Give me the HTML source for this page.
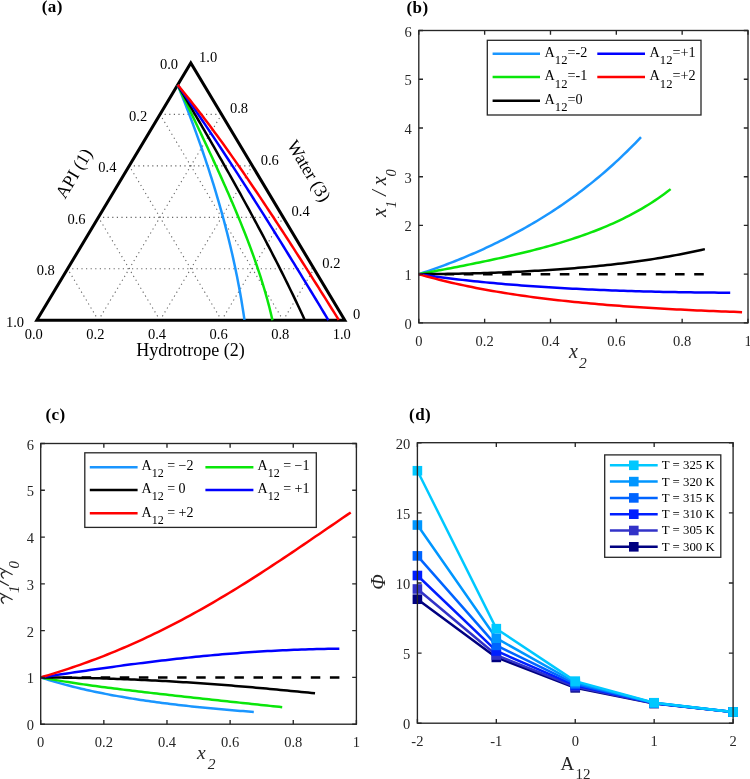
<!DOCTYPE html>
<html><head><meta charset="utf-8"><style>
html,body{margin:0;padding:0;background:#fff;width:750px;height:779px;overflow:hidden;}
svg{display:block;will-change:transform;}
</style></head><body>
<svg width="750" height="779" viewBox="0 0 750 779">
<rect width="750" height="779" fill="#fff"/>
<line x1="160.00" y1="114.38" x2="221.60" y2="114.38" stroke="#666" stroke-width="1.1" stroke-dasharray="1.2 3.4"/>
<line x1="98.40" y1="320.30" x2="67.60" y2="268.82" stroke="#666" stroke-width="1.1" stroke-dasharray="1.2 3.4"/>
<line x1="98.40" y1="320.30" x2="221.60" y2="114.38" stroke="#666" stroke-width="1.1" stroke-dasharray="1.2 3.4"/>
<line x1="129.20" y1="165.86" x2="252.40" y2="165.86" stroke="#666" stroke-width="1.1" stroke-dasharray="1.2 3.4"/>
<line x1="160.00" y1="320.30" x2="98.40" y2="217.34" stroke="#666" stroke-width="1.1" stroke-dasharray="1.2 3.4"/>
<line x1="160.00" y1="320.30" x2="252.40" y2="165.86" stroke="#666" stroke-width="1.1" stroke-dasharray="1.2 3.4"/>
<line x1="98.40" y1="217.34" x2="283.20" y2="217.34" stroke="#666" stroke-width="1.1" stroke-dasharray="1.2 3.4"/>
<line x1="221.60" y1="320.30" x2="129.20" y2="165.86" stroke="#666" stroke-width="1.1" stroke-dasharray="1.2 3.4"/>
<line x1="221.60" y1="320.30" x2="283.20" y2="217.34" stroke="#666" stroke-width="1.1" stroke-dasharray="1.2 3.4"/>
<line x1="67.60" y1="268.82" x2="314.00" y2="268.82" stroke="#666" stroke-width="1.1" stroke-dasharray="1.2 3.4"/>
<line x1="283.20" y1="320.30" x2="160.00" y2="114.38" stroke="#666" stroke-width="1.1" stroke-dasharray="1.2 3.4"/>
<line x1="283.20" y1="320.30" x2="314.00" y2="268.82" stroke="#666" stroke-width="1.1" stroke-dasharray="1.2 3.4"/>
<path d="M36.80,320.30 L344.80,320.30 L190.80,62.90 Z" fill="none" stroke="#000" stroke-width="3" stroke-linejoin="miter"/>
<path d="M177.63,84.91 L178.69,87.5 L179.95,90.62 L181.2,93.75 L182.45,96.88 L183.49,99.5 L184.73,102.65 L185.96,105.82 L187.19,108.99 L188.21,111.64 L189.43,114.83 L190.64,118.03 L191.85,121.24 L192.85,123.92 L194.04,127.15 L195.23,130.39 L196.41,133.64 L197.59,136.91 L198.56,139.63 L199.72,142.91 L200.88,146.21 L202.03,149.51 L202.98,152.28 L204.11,155.6 L205.24,158.94 L206.36,162.3 L207.29,165.1 L208.4,168.48 L209.5,171.86 L210.59,175.27 L211.67,178.68 L212.57,181.54 L213.63,184.98 L214.69,188.44 L215.74,191.91 L216.61,194.81 L217.64,198.31 L218.67,201.82 L219.68,205.35 L220.52,208.31 L221.52,211.87 L222.5,215.44 L223.48,219.04 L224.45,222.65 L225.24,225.67 L226.19,229.31 L227.13,232.97 L228.05,236.65 L228.81,239.74 L229.71,243.45 L230.61,247.19 L231.48,250.94 L232.21,254.09 L233.06,257.89 L233.91,261.7 L234.73,265.54 L235.55,269.4 L236.22,272.64 L237.01,276.55 L237.78,280.48 L238.54,284.43 L239.17,287.75 L239.9,291.75 L240.62,295.78 L241.32,299.83 L241.89,303.23 L242.55,307.34 L243.21,311.48 L243.84,315.64 L244.45,319.84" fill="none" stroke="#1a96ff" stroke-width="2.5" stroke-linejoin="round" />
<path d="M177.63,84.91 L178.95,87.64 L180.53,90.92 L182.11,94.2 L183.69,97.48 L185.01,100.22 L186.58,103.51 L188.16,106.79 L189.74,110.08 L191.31,113.37 L192.62,116.12 L194.19,119.41 L195.76,122.71 L197.33,126.01 L198.64,128.76 L200.2,132.07 L201.77,135.37 L203.33,138.69 L204.89,142 L206.19,144.77 L207.74,148.09 L209.29,151.42 L210.84,154.76 L212.39,158.09 L213.67,160.88 L215.21,164.23 L216.75,167.59 L218.28,170.95 L219.55,173.75 L221.08,177.13 L222.59,180.51 L224.11,183.9 L225.62,187.3 L226.87,190.14 L228.37,193.56 L229.86,196.99 L231.35,200.42 L232.58,203.3 L234.06,206.75 L235.53,210.22 L236.98,213.71 L238.44,217.2 L239.64,220.13 L241.07,223.65 L242.5,227.19 L243.92,230.75 L245.32,234.32 L246.49,237.31 L247.87,240.91 L249.25,244.54 L250.61,248.18 L251.73,251.24 L253.07,254.92 L254.4,258.63 L255.7,262.37 L257,266.13 L258.06,269.28 L259.33,273.1 L260.57,276.94 L261.8,280.81 L262.8,284.06 L263.99,288 L265.16,291.97 L266.3,295.98 L267.43,300.02 L268.34,303.43 L269.42,307.55 L270.46,311.73 L271.48,315.95 L272.47,320.22" fill="none" stroke="#0ae60a" stroke-width="2.5" stroke-linejoin="round" />
<path d="M177.63,84.91 L179.3,87.72 L181.31,91.1 L183.31,94.48 L185.31,97.86 L186.98,100.68 L188.97,104.07 L190.97,107.46 L192.96,110.86 L194.96,114.26 L196.61,117.09 L198.6,120.5 L200.59,123.9 L202.57,127.32 L204.22,130.16 L206.2,133.58 L208.18,137 L210.16,140.43 L212.13,143.86 L213.77,146.72 L215.74,150.15 L217.71,153.59 L219.67,157.04 L221.63,160.49 L223.26,163.36 L225.22,166.82 L227.18,170.28 L229.13,173.75 L230.75,176.64 L232.7,180.12 L234.64,183.6 L236.58,187.08 L238.52,190.57 L240.13,193.48 L242.06,196.98 L243.99,200.49 L245.91,204 L247.51,206.93 L249.43,210.45 L251.34,213.98 L253.25,217.51 L255.16,221.05 L256.74,224.01 L258.64,227.56 L260.54,231.12 L262.43,234.69 L264.32,238.26 L265.88,241.25 L267.76,244.84 L269.64,248.43 L271.5,252.04 L273.06,255.05 L274.92,258.67 L276.77,262.3 L278.62,265.93 L280.46,269.58 L281.99,272.63 L283.82,276.29 L285.65,279.97 L287.47,283.65 L288.98,286.73 L290.79,290.44 L292.59,294.16 L294.38,297.89 L296.17,301.63 L297.65,304.76 L299.42,308.52 L301.19,312.3 L302.94,316.1 L304.69,319.9" fill="none" stroke="#000000" stroke-width="2.5" stroke-linejoin="round" />
<path d="M177.63,84.91 L179.62,87.69 L181.99,91.05 L184.36,94.41 L186.73,97.78 L188.69,100.6 L191.04,103.99 L193.39,107.39 L195.74,110.79 L198.08,114.2 L200.02,117.05 L202.36,120.48 L204.68,123.92 L207,127.36 L208.94,130.23 L211.25,133.68 L213.56,137.14 L215.87,140.61 L218.17,144.08 L220.09,146.98 L222.39,150.47 L224.68,153.96 L226.97,157.45 L229.26,160.95 L231.16,163.87 L233.45,167.38 L235.72,170.9 L238,174.42 L239.89,177.35 L242.16,180.88 L244.43,184.41 L246.7,187.95 L248.96,191.49 L250.84,194.45 L253.1,198 L255.36,201.55 L257.61,205.11 L259.49,208.07 L261.74,211.64 L263.98,215.21 L266.23,218.78 L268.47,222.35 L270.34,225.34 L272.57,228.92 L274.81,232.5 L277.05,236.09 L279.28,239.68 L281.14,242.68 L283.37,246.27 L285.59,249.88 L287.82,253.48 L289.67,256.48 L291.89,260.09 L294.12,263.71 L296.33,267.32 L298.55,270.94 L300.4,273.95 L302.61,277.58 L304.82,281.2 L307.03,284.83 L308.88,287.86 L311.08,291.49 L313.29,295.12 L315.5,298.76 L317.7,302.4 L319.53,305.44 L321.73,309.08 L323.93,312.73 L326.13,316.38 L328.33,320.03" fill="none" stroke="#0000ff" stroke-width="2.5" stroke-linejoin="round" />
<path d="M177.63,84.91 L179.84,87.55 L182.48,90.74 L185.11,93.95 L187.72,97.19 L189.89,99.89 L192.49,103.16 L195.07,106.44 L197.64,109.74 L199.78,112.51 L202.34,115.84 L204.88,119.18 L207.42,122.54 L209.53,125.35 L212.05,128.74 L214.57,132.14 L217.07,135.55 L219.57,138.98 L221.65,141.84 L224.13,145.29 L226.61,148.75 L229.08,152.22 L231.14,155.12 L233.6,158.61 L236.05,162.11 L238.5,165.62 L240.54,168.55 L242.97,172.08 L245.41,175.61 L247.84,179.16 L250.26,182.71 L252.27,185.68 L254.69,189.24 L257.1,192.82 L259.51,196.4 L261.51,199.39 L263.9,202.98 L266.3,206.58 L268.69,210.19 L270.68,213.2 L273.06,216.81 L275.44,220.44 L277.82,224.07 L280.19,227.7 L282.17,230.73 L284.54,234.38 L286.9,238.03 L289.27,241.68 L291.23,244.73 L293.59,248.39 L295.94,252.06 L298.3,255.73 L300.25,258.79 L302.6,262.47 L304.95,266.15 L307.29,269.84 L309.63,273.52 L311.58,276.6 L313.92,280.3 L316.25,284 L318.59,287.7 L320.53,290.79 L322.86,294.49 L325.19,298.21 L327.51,301.92 L329.45,305.02 L331.77,308.74 L334.09,312.46 L336.41,316.18 L338.73,319.91" fill="none" stroke="#ff0000" stroke-width="2.5" stroke-linejoin="round" />
<text x="178.00" y="69.30" text-anchor="end" font-family="Liberation Serif" font-size="14.5" fill="#000" >0.0</text>
<text x="199.10" y="61.90" font-family="Liberation Serif" font-size="14.5" fill="#000" >1.0</text>
<text x="33.80" y="338.60" text-anchor="middle" font-family="Liberation Serif" font-size="14.5" fill="#000" >0.0</text>
<text x="147.20" y="120.78" text-anchor="end" font-family="Liberation Serif" font-size="14.5" fill="#000" >0.2</text>
<text x="229.90" y="113.38" font-family="Liberation Serif" font-size="14.5" fill="#000" >0.8</text>
<text x="95.40" y="338.60" text-anchor="middle" font-family="Liberation Serif" font-size="14.5" fill="#000" >0.2</text>
<text x="116.40" y="172.26" text-anchor="end" font-family="Liberation Serif" font-size="14.5" fill="#000" >0.4</text>
<text x="260.70" y="164.86" font-family="Liberation Serif" font-size="14.5" fill="#000" >0.6</text>
<text x="157.00" y="338.60" text-anchor="middle" font-family="Liberation Serif" font-size="14.5" fill="#000" >0.4</text>
<text x="85.60" y="223.74" text-anchor="end" font-family="Liberation Serif" font-size="14.5" fill="#000" >0.6</text>
<text x="291.50" y="216.34" font-family="Liberation Serif" font-size="14.5" fill="#000" >0.4</text>
<text x="218.60" y="338.60" text-anchor="middle" font-family="Liberation Serif" font-size="14.5" fill="#000" >0.6</text>
<text x="54.80" y="275.22" text-anchor="end" font-family="Liberation Serif" font-size="14.5" fill="#000" >0.8</text>
<text x="322.30" y="267.82" font-family="Liberation Serif" font-size="14.5" fill="#000" >0.2</text>
<text x="280.20" y="338.60" text-anchor="middle" font-family="Liberation Serif" font-size="14.5" fill="#000" >0.8</text>
<text x="24.00" y="326.70" text-anchor="end" font-family="Liberation Serif" font-size="14.5" fill="#000" >1.0</text>
<text x="353.10" y="319.30" font-family="Liberation Serif" font-size="14.5" fill="#000" >0</text>
<text x="341.80" y="338.60" text-anchor="middle" font-family="Liberation Serif" font-size="14.5" fill="#000" >1.0</text>
<text x="190.50" y="356.00" text-anchor="middle" font-family="Liberation Serif" font-size="18" fill="#000" >Hydrotrope (2)</text>
<text transform="translate(73.8,173.4) rotate(-59.1)" text-anchor="middle" dominant-baseline="central" font-family="Liberation Serif" font-size="18">API (1)</text>
<text transform="translate(309,170.8) rotate(59.1)" text-anchor="middle" dominant-baseline="central" font-family="Liberation Serif" font-size="18">Water (3)</text>
<text x="41.70" y="12.10" font-family="Liberation Serif" font-size="17" fill="#000" font-weight="bold" letter-spacing="0.4">(a)</text>
<line x1="418.80" y1="274.17" x2="705.00" y2="274.17" stroke="#000" stroke-width="2.5" stroke-dasharray="9.6 9.6" stroke-dashoffset="12.6"/>
<path d="M418.8,274.17 L421.61,273.24 L424.43,272.3 L427.24,271.34 L430.05,270.37 L432.86,269.39 L435.68,268.39 L438.49,267.38 L441.3,266.35 L444.12,265.31 L446.93,264.25 L449.74,263.18 L452.55,262.09 L455.37,260.98 L458.18,259.86 L460.99,258.73 L463.8,257.57 L466.62,256.4 L469.43,255.22 L472.24,254.01 L475.06,252.79 L477.87,251.55 L480.68,250.29 L483.49,249.02 L486.31,247.72 L489.12,246.41 L491.93,245.08 L494.75,243.73 L497.56,242.36 L500.37,240.97 L503.18,239.56 L506,238.13 L508.81,236.68 L511.62,235.2 L514.43,233.71 L517.25,232.19 L520.06,230.66 L522.87,229.1 L525.69,227.51 L528.5,225.91 L531.31,224.28 L534.12,222.63 L536.94,220.95 L539.75,219.25 L542.56,217.52 L545.38,215.77 L548.19,213.99 L551,212.18 L553.81,210.35 L556.63,208.49 L559.44,206.6 L562.25,204.69 L565.06,202.74 L567.88,200.77 L570.69,198.77 L573.5,196.73 L576.32,194.67 L579.13,192.57 L581.94,190.44 L584.75,188.28 L587.57,186.09 L590.38,183.86 L593.19,181.6 L596.01,179.3 L598.82,176.96 L601.63,174.59 L604.44,172.18 L607.26,169.74 L610.07,167.25 L612.88,164.73 L615.69,162.16 L618.51,159.56 L621.32,156.91 L624.13,154.22 L626.95,151.48 L629.76,148.7 L632.57,145.88 L635.38,143.01 L638.2,140.09 L641.01,137.12" fill="none" stroke="#1a96ff" stroke-width="2.5" stroke-linejoin="round" />
<path d="M418.8,274.17 L421.99,273.57 L425.18,272.98 L428.36,272.38 L431.55,271.79 L434.74,271.19 L437.93,270.58 L441.11,269.98 L444.3,269.37 L447.49,268.76 L450.68,268.15 L453.87,267.53 L457.05,266.91 L460.24,266.28 L463.43,265.66 L466.62,265.02 L469.81,264.39 L472.99,263.74 L476.18,263.1 L479.37,262.44 L482.56,261.78 L485.74,261.12 L488.93,260.45 L492.12,259.77 L495.31,259.08 L498.5,258.39 L501.68,257.69 L504.87,256.97 L508.06,256.26 L511.25,255.53 L514.43,254.79 L517.62,254.04 L520.81,253.28 L524,252.5 L527.19,251.72 L530.37,250.92 L533.56,250.11 L536.75,249.29 L539.94,248.45 L543.13,247.6 L546.31,246.73 L549.5,245.84 L552.69,244.94 L555.88,244.02 L559.06,243.08 L562.25,242.12 L565.44,241.14 L568.63,240.13 L571.82,239.11 L575,238.06 L578.19,236.99 L581.38,235.9 L584.57,234.77 L587.75,233.62 L590.94,232.44 L594.13,231.23 L597.32,229.99 L600.51,228.72 L603.69,227.42 L606.88,226.08 L610.07,224.7 L613.26,223.28 L616.45,221.83 L619.63,220.33 L622.82,218.8 L626.01,217.21 L629.2,215.58 L632.38,213.9 L635.57,212.18 L638.76,210.39 L641.95,208.56 L645.14,206.66 L648.32,204.71 L651.51,202.69 L654.7,200.61 L657.89,198.47 L661.07,196.25 L664.26,193.95 L667.45,191.58 L670.64,189.13" fill="none" stroke="#0ae60a" stroke-width="2.5" stroke-linejoin="round" />
<path d="M418.8,274.17 L422.42,274.15 L426.04,274.12 L429.66,274.09 L433.28,274.06 L436.91,274.02 L440.53,273.97 L444.15,273.92 L447.77,273.87 L451.39,273.81 L455.01,273.75 L458.63,273.68 L462.25,273.61 L465.88,273.53 L469.5,273.44 L473.12,273.35 L476.74,273.25 L480.36,273.15 L483.98,273.05 L487.6,272.93 L491.22,272.81 L494.85,272.69 L498.47,272.56 L502.09,272.42 L505.71,272.27 L509.33,272.12 L512.95,271.96 L516.57,271.8 L520.19,271.63 L523.81,271.45 L527.44,271.27 L531.06,271.07 L534.68,270.87 L538.3,270.67 L541.92,270.45 L545.54,270.23 L549.16,270 L552.78,269.76 L556.41,269.51 L560.03,269.25 L563.65,268.99 L567.27,268.71 L570.89,268.43 L574.51,268.14 L578.13,267.83 L581.75,267.52 L585.38,267.2 L589,266.87 L592.62,266.53 L596.24,266.17 L599.86,265.81 L603.48,265.44 L607.1,265.05 L610.72,264.65 L614.34,264.24 L617.97,263.82 L621.59,263.39 L625.21,262.94 L628.83,262.48 L632.45,262.01 L636.07,261.52 L639.69,261.02 L643.31,260.5 L646.94,259.97 L650.56,259.43 L654.18,258.86 L657.8,258.29 L661.42,257.69 L665.04,257.08 L668.66,256.45 L672.28,255.81 L675.91,255.14 L679.53,254.46 L683.15,253.76 L686.77,253.04 L690.39,252.29 L694.01,251.53 L697.63,250.75 L701.25,249.94 L704.87,249.11" fill="none" stroke="#000000" stroke-width="2.5" stroke-linejoin="round" />
<path d="M418.8,274.17 L422.74,274.76 L426.68,275.33 L430.63,275.89 L434.57,276.44 L438.51,276.97 L442.45,277.49 L446.39,277.99 L450.34,278.48 L454.28,278.96 L458.22,279.43 L462.16,279.88 L466.1,280.32 L470.05,280.76 L473.99,281.17 L477.93,281.58 L481.87,281.98 L485.82,282.37 L489.76,282.74 L493.7,283.11 L497.64,283.47 L501.58,283.81 L505.53,284.15 L509.47,284.48 L513.41,284.8 L517.35,285.11 L521.29,285.41 L525.24,285.71 L529.18,286 L533.12,286.27 L537.06,286.54 L541,286.81 L544.95,287.06 L548.89,287.31 L552.83,287.55 L556.77,287.79 L560.71,288.02 L564.66,288.24 L568.6,288.45 L572.54,288.66 L576.48,288.86 L580.42,289.05 L584.37,289.24 L588.31,289.43 L592.25,289.6 L596.19,289.77 L600.14,289.94 L604.08,290.1 L608.02,290.25 L611.96,290.4 L615.9,290.55 L619.85,290.69 L623.79,290.82 L627.73,290.95 L631.67,291.07 L635.61,291.19 L639.56,291.3 L643.5,291.41 L647.44,291.52 L651.38,291.62 L655.32,291.71 L659.27,291.8 L663.21,291.89 L667.15,291.97 L671.09,292.05 L675.03,292.12 L678.98,292.19 L682.92,292.25 L686.86,292.31 L690.8,292.37 L694.74,292.42 L698.69,292.47 L702.63,292.51 L706.57,292.55 L710.51,292.59 L714.45,292.62 L718.4,292.65 L722.34,292.67 L726.28,292.7 L730.22,292.71" fill="none" stroke="#0000ff" stroke-width="2.5" stroke-linejoin="round" />
<path d="M418.8,274.17 L422.89,275.34 L426.98,276.48 L431.08,277.58 L435.17,278.66 L439.26,279.7 L443.35,280.72 L447.44,281.71 L451.54,282.67 L455.63,283.6 L459.72,284.51 L463.81,285.39 L467.9,286.25 L472,287.08 L476.09,287.9 L480.18,288.68 L484.27,289.45 L488.37,290.2 L492.46,290.92 L496.55,291.63 L500.64,292.31 L504.73,292.98 L508.83,293.63 L512.92,294.26 L517.01,294.87 L521.1,295.47 L525.19,296.05 L529.29,296.62 L533.38,297.17 L537.47,297.7 L541.56,298.22 L545.65,298.73 L549.75,299.22 L553.84,299.7 L557.93,300.17 L562.02,300.62 L566.11,301.06 L570.21,301.49 L574.3,301.91 L578.39,302.32 L582.48,302.71 L586.58,303.1 L590.67,303.47 L594.76,303.84 L598.85,304.19 L602.94,304.54 L607.04,304.88 L611.13,305.2 L615.22,305.52 L619.31,305.83 L623.4,306.14 L627.5,306.43 L631.59,306.72 L635.68,307 L639.77,307.27 L643.86,307.53 L647.96,307.79 L652.05,308.04 L656.14,308.28 L660.23,308.52 L664.32,308.75 L668.42,308.98 L672.51,309.19 L676.6,309.41 L680.69,309.61 L684.79,309.82 L688.88,310.01 L692.97,310.2 L697.06,310.39 L701.15,310.57 L705.25,310.75 L709.34,310.92 L713.43,311.09 L717.52,311.25 L721.61,311.41 L725.71,311.56 L729.8,311.71 L733.89,311.85 L737.98,311.99 L742.07,312.13" fill="none" stroke="#ff0000" stroke-width="2.5" stroke-linejoin="round" />
<rect x="418.80" y="30.50" width="329.20" height="292.40" fill="none" stroke="#262626" stroke-width="1.35"/>
<path d="M418.80,322.90 V318.70 M418.80,30.50 V34.70" stroke="#262626" stroke-width="1.35"/>
<text x="418.80" y="345.80" text-anchor="middle" font-family="Liberation Serif" font-size="14.5" fill="#262626" >0</text>
<path d="M484.64,322.90 V318.70 M484.64,30.50 V34.70" stroke="#262626" stroke-width="1.35"/>
<text x="484.64" y="345.80" text-anchor="middle" font-family="Liberation Serif" font-size="14.5" fill="#262626" >0.2</text>
<path d="M550.48,322.90 V318.70 M550.48,30.50 V34.70" stroke="#262626" stroke-width="1.35"/>
<text x="550.48" y="345.80" text-anchor="middle" font-family="Liberation Serif" font-size="14.5" fill="#262626" >0.4</text>
<path d="M616.32,322.90 V318.70 M616.32,30.50 V34.70" stroke="#262626" stroke-width="1.35"/>
<text x="616.32" y="345.80" text-anchor="middle" font-family="Liberation Serif" font-size="14.5" fill="#262626" >0.6</text>
<path d="M682.16,322.90 V318.70 M682.16,30.50 V34.70" stroke="#262626" stroke-width="1.35"/>
<text x="682.16" y="345.80" text-anchor="middle" font-family="Liberation Serif" font-size="14.5" fill="#262626" >0.8</text>
<path d="M748.00,322.90 V318.70 M748.00,30.50 V34.70" stroke="#262626" stroke-width="1.35"/>
<text x="748.00" y="345.80" text-anchor="middle" font-family="Liberation Serif" font-size="14.5" fill="#262626" >1</text>
<path d="M418.80,322.90 H423.00 M748.00,322.90 H743.80" stroke="#262626" stroke-width="1.35"/>
<text x="411.80" y="328.90" text-anchor="end" font-family="Liberation Serif" font-size="14.5" fill="#262626" >0</text>
<path d="M418.80,274.17 H423.00 M748.00,274.17 H743.80" stroke="#262626" stroke-width="1.35"/>
<text x="411.80" y="280.17" text-anchor="end" font-family="Liberation Serif" font-size="14.5" fill="#262626" >1</text>
<path d="M418.80,225.43 H423.00 M748.00,225.43 H743.80" stroke="#262626" stroke-width="1.35"/>
<text x="411.80" y="231.43" text-anchor="end" font-family="Liberation Serif" font-size="14.5" fill="#262626" >2</text>
<path d="M418.80,176.70 H423.00 M748.00,176.70 H743.80" stroke="#262626" stroke-width="1.35"/>
<text x="411.80" y="182.70" text-anchor="end" font-family="Liberation Serif" font-size="14.5" fill="#262626" >3</text>
<path d="M418.80,127.97 H423.00 M748.00,127.97 H743.80" stroke="#262626" stroke-width="1.35"/>
<text x="411.80" y="133.97" text-anchor="end" font-family="Liberation Serif" font-size="14.5" fill="#262626" >4</text>
<path d="M418.80,79.23 H423.00 M748.00,79.23 H743.80" stroke="#262626" stroke-width="1.35"/>
<text x="411.80" y="85.23" text-anchor="end" font-family="Liberation Serif" font-size="14.5" fill="#262626" >5</text>
<path d="M418.80,30.50 H423.00 M748.00,30.50 H743.80" stroke="#262626" stroke-width="1.35"/>
<text x="411.80" y="36.50" text-anchor="end" font-family="Liberation Serif" font-size="14.5" fill="#262626" >6</text>
<rect x="487.3" y="40.3" width="213.7" height="74.7" fill="#fff" stroke="#262626" stroke-width="1.3"/>
<line x1="492.6" y1="53.7" x2="540.0" y2="53.7" stroke="#1a96ff" stroke-width="2.5"/>
<text x="544.6" y="57.0" font-family="Liberation Serif" font-size="14.2" fill="#000">A<tspan font-size="12.6" dy="7.3">12</tspan><tspan dy="-7.3">=-2</tspan></text>
<line x1="597.3" y1="53.7" x2="645.0" y2="53.7" stroke="#0000ff" stroke-width="2.5"/>
<text x="649.6" y="57.0" font-family="Liberation Serif" font-size="14.2" fill="#000">A<tspan font-size="12.6" dy="7.3">12</tspan><tspan dy="-7.3">=+1</tspan></text>
<line x1="492.6" y1="77.1" x2="540.0" y2="77.1" stroke="#0ae60a" stroke-width="2.5"/>
<text x="544.6" y="80.4" font-family="Liberation Serif" font-size="14.2" fill="#000">A<tspan font-size="12.6" dy="7.3">12</tspan><tspan dy="-7.3">=-1</tspan></text>
<line x1="597.3" y1="77.1" x2="645.0" y2="77.1" stroke="#ff0000" stroke-width="2.5"/>
<text x="649.6" y="80.4" font-family="Liberation Serif" font-size="14.2" fill="#000">A<tspan font-size="12.6" dy="7.3">12</tspan><tspan dy="-7.3">=+2</tspan></text>
<line x1="492.6" y1="100.7" x2="540.0" y2="100.7" stroke="#000000" stroke-width="2.5"/>
<text x="544.6" y="104.0" font-family="Liberation Serif" font-size="14.2" fill="#000">A<tspan font-size="12.6" dy="7.3">12</tspan><tspan dy="-7.3">=0</tspan></text>
<text x="406.50" y="12.80" font-family="Liberation Serif" font-size="17" fill="#000" font-weight="bold" letter-spacing="0.4">(b)</text>
<text x="569" y="358" font-family="Liberation Serif" font-style="italic" font-size="20" fill="#262626">x<tspan font-size="15.5" dx="1.2" dy="9.8">2</tspan></text>
<text transform="translate(386.2,217) rotate(-90)" font-family="Liberation Serif" font-style="italic" font-size="20" fill="#262626">x<tspan font-size="14.5" dy="10">1</tspan><tspan dy="-10"> / x</tspan><tspan font-size="14.5" dy="10">0</tspan></text>
<line x1="40.70" y1="677.42" x2="340.40" y2="677.42" stroke="#000" stroke-width="2.5" stroke-dasharray="9.5 9.6" stroke-dashoffset="16.4"/>
<path d="M40.7,677.42 L43.4,678.29 L46.09,679.14 L48.79,679.98 L51.49,680.8 L54.19,681.59 L56.88,682.37 L59.58,683.14 L62.28,683.88 L64.98,684.61 L67.67,685.33 L70.37,686.02 L73.07,686.71 L75.77,687.38 L78.46,688.03 L81.16,688.67 L83.86,689.3 L86.56,689.91 L89.25,690.52 L91.95,691.1 L94.65,691.68 L97.35,692.25 L100.04,692.8 L102.74,693.34 L105.44,693.87 L108.14,694.39 L110.83,694.9 L113.53,695.4 L116.23,695.89 L118.93,696.37 L121.62,696.84 L124.32,697.31 L127.02,697.76 L129.72,698.2 L132.41,698.64 L135.11,699.06 L137.81,699.48 L140.51,699.89 L143.2,700.3 L145.9,700.69 L148.6,701.08 L151.29,701.46 L153.99,701.84 L156.69,702.2 L159.39,702.57 L162.08,702.92 L164.78,703.27 L167.48,703.61 L170.18,703.94 L172.87,704.27 L175.57,704.6 L178.27,704.91 L180.97,705.23 L183.66,705.53 L186.36,705.83 L189.06,706.13 L191.76,706.42 L194.45,706.71 L197.15,706.99 L199.85,707.26 L202.55,707.54 L205.24,707.8 L207.94,708.07 L210.64,708.32 L213.34,708.58 L216.03,708.83 L218.73,709.07 L221.43,709.31 L224.13,709.55 L226.82,709.79 L229.52,710.02 L232.22,710.24 L234.92,710.46 L237.61,710.68 L240.31,710.9 L243.01,711.11 L245.71,711.32 L248.4,711.53 L251.1,711.73 L253.8,711.93" fill="none" stroke="#1a96ff" stroke-width="2.5" stroke-linejoin="round" />
<path d="M40.7,677.42 L43.76,677.98 L46.81,678.53 L49.87,679.07 L52.93,679.6 L55.99,680.11 L59.04,680.62 L62.1,681.12 L65.16,681.61 L68.21,682.09 L71.27,682.56 L74.33,683.03 L77.39,683.48 L80.44,683.93 L83.5,684.37 L86.56,684.81 L89.61,685.24 L92.67,685.66 L95.73,686.08 L98.78,686.49 L101.84,686.9 L104.9,687.3 L107.96,687.69 L111.01,688.09 L114.07,688.48 L117.13,688.86 L120.18,689.24 L123.24,689.62 L126.3,689.99 L129.36,690.36 L132.41,690.73 L135.47,691.09 L138.53,691.45 L141.58,691.81 L144.64,692.17 L147.7,692.52 L150.76,692.88 L153.81,693.23 L156.87,693.58 L159.93,693.92 L162.98,694.27 L166.04,694.61 L169.1,694.96 L172.16,695.3 L175.21,695.64 L178.27,695.98 L181.33,696.32 L184.38,696.65 L187.44,696.99 L190.5,697.33 L193.55,697.66 L196.61,698 L199.67,698.33 L202.73,698.66 L205.78,699 L208.84,699.33 L211.9,699.66 L214.95,699.99 L218.01,700.32 L221.07,700.65 L224.13,700.98 L227.18,701.31 L230.24,701.64 L233.3,701.97 L236.35,702.3 L239.41,702.63 L242.47,702.96 L245.53,703.28 L248.58,703.61 L251.64,703.94 L254.7,704.26 L257.75,704.59 L260.81,704.91 L263.87,705.23 L266.93,705.56 L269.98,705.88 L273.04,706.2 L276.1,706.52 L279.15,706.84 L282.21,707.16" fill="none" stroke="#0ae60a" stroke-width="2.5" stroke-linejoin="round" />
<path d="M40.7,677.42 L44.17,677.44 L47.65,677.46 L51.12,677.49 L54.59,677.52 L58.06,677.56 L61.54,677.6 L65.01,677.65 L68.48,677.7 L71.95,677.75 L75.43,677.81 L78.9,677.88 L82.37,677.95 L85.85,678.02 L89.32,678.1 L92.79,678.19 L96.26,678.28 L99.74,678.37 L103.21,678.47 L106.68,678.57 L110.15,678.68 L113.63,678.8 L117.1,678.91 L120.57,679.04 L124.04,679.17 L127.52,679.3 L130.99,679.44 L134.46,679.58 L137.94,679.73 L141.41,679.89 L144.88,680.05 L148.35,680.21 L151.83,680.38 L155.3,680.55 L158.77,680.73 L162.24,680.92 L165.72,681.11 L169.19,681.3 L172.66,681.5 L176.14,681.7 L179.61,681.91 L183.08,682.13 L186.55,682.34 L190.03,682.57 L193.5,682.8 L196.97,683.03 L200.44,683.27 L203.92,683.51 L207.39,683.76 L210.86,684.01 L214.33,684.26 L217.81,684.52 L221.28,684.79 L224.75,685.06 L228.23,685.33 L231.7,685.61 L235.17,685.89 L238.64,686.18 L242.12,686.47 L245.59,686.76 L249.06,687.06 L252.53,687.36 L256.01,687.66 L259.48,687.97 L262.95,688.28 L266.43,688.6 L269.9,688.91 L273.37,689.24 L276.84,689.56 L280.32,689.89 L283.79,690.22 L287.26,690.55 L290.73,690.89 L294.21,691.23 L297.68,691.57 L301.15,691.91 L304.63,692.25 L308.1,692.6 L311.57,692.95 L315.04,693.3" fill="none" stroke="#000000" stroke-width="2.5" stroke-linejoin="round" />
<path d="M40.7,677.42 L44.48,676.84 L48.26,676.27 L52.04,675.7 L55.82,675.13 L59.6,674.56 L63.38,673.99 L67.16,673.43 L70.94,672.87 L74.72,672.31 L78.5,671.75 L82.28,671.2 L86.06,670.65 L89.85,670.1 L93.63,669.56 L97.41,669.02 L101.19,668.48 L104.97,667.95 L108.75,667.43 L112.53,666.9 L116.31,666.38 L120.09,665.87 L123.87,665.36 L127.65,664.86 L131.43,664.36 L135.21,663.87 L138.99,663.38 L142.77,662.9 L146.55,662.42 L150.33,661.95 L154.11,661.49 L157.89,661.03 L161.67,660.58 L165.45,660.14 L169.23,659.7 L173.01,659.27 L176.79,658.84 L180.58,658.43 L184.36,658.02 L188.14,657.62 L191.92,657.22 L195.7,656.84 L199.48,656.46 L203.26,656.09 L207.04,655.73 L210.82,655.37 L214.6,655.03 L218.38,654.69 L222.16,654.36 L225.94,654.04 L229.72,653.73 L233.5,653.43 L237.28,653.13 L241.06,652.85 L244.84,652.57 L248.62,652.3 L252.4,652.04 L256.18,651.79 L259.96,651.55 L263.74,651.32 L267.52,651.1 L271.3,650.89 L275.09,650.68 L278.87,650.49 L282.65,650.31 L286.43,650.13 L290.21,649.97 L293.99,649.81 L297.77,649.66 L301.55,649.53 L305.33,649.4 L309.11,649.28 L312.89,649.17 L316.67,649.07 L320.45,648.98 L324.23,648.9 L328.01,648.83 L331.79,648.77 L335.57,648.72 L339.35,648.68" fill="none" stroke="#0000ff" stroke-width="2.5" stroke-linejoin="round" />
<path d="M40.7,677.42 L44.62,676.26 L48.55,675.09 L52.47,673.89 L56.4,672.67 L60.32,671.42 L64.25,670.15 L68.17,668.85 L72.09,667.53 L76.02,666.18 L79.94,664.81 L83.87,663.41 L87.79,661.99 L91.72,660.54 L95.64,659.07 L99.56,657.57 L103.49,656.04 L107.41,654.48 L111.34,652.9 L115.26,651.3 L119.19,649.66 L123.11,648 L127.03,646.31 L130.96,644.59 L134.88,642.85 L138.81,641.08 L142.73,639.28 L146.66,637.46 L150.58,635.6 L154.5,633.72 L158.43,631.81 L162.35,629.88 L166.28,627.92 L170.2,625.93 L174.13,623.91 L178.05,621.87 L181.97,619.8 L185.9,617.71 L189.82,615.58 L193.75,613.44 L197.67,611.26 L201.6,609.06 L205.52,606.84 L209.44,604.59 L213.37,602.32 L217.29,600.02 L221.22,597.7 L225.14,595.36 L229.07,593 L232.99,590.61 L236.91,588.2 L240.84,585.77 L244.76,583.32 L248.69,580.85 L252.61,578.36 L256.53,575.85 L260.46,573.33 L264.38,570.79 L268.31,568.23 L272.23,565.65 L276.16,563.07 L280.08,560.46 L284,557.85 L287.93,555.22 L291.85,552.59 L295.78,549.94 L299.7,547.28 L303.63,544.62 L307.55,541.95 L311.47,539.27 L315.4,536.59 L319.32,533.91 L323.25,531.23 L327.17,528.54 L331.1,525.85 L335.02,523.17 L338.94,520.49 L342.87,517.81 L346.79,515.14 L350.72,512.48" fill="none" stroke="#ff0000" stroke-width="2.5" stroke-linejoin="round" />
<rect x="40.70" y="443.50" width="315.70" height="280.70" fill="none" stroke="#262626" stroke-width="1.35"/>
<path d="M40.70,724.20 V720.00 M40.70,443.50 V447.70" stroke="#262626" stroke-width="1.35"/>
<text x="40.70" y="746.80" text-anchor="middle" font-family="Liberation Serif" font-size="14.5" fill="#262626" >0</text>
<path d="M103.84,724.20 V720.00 M103.84,443.50 V447.70" stroke="#262626" stroke-width="1.35"/>
<text x="103.84" y="746.80" text-anchor="middle" font-family="Liberation Serif" font-size="14.5" fill="#262626" >0.2</text>
<path d="M166.98,724.20 V720.00 M166.98,443.50 V447.70" stroke="#262626" stroke-width="1.35"/>
<text x="166.98" y="746.80" text-anchor="middle" font-family="Liberation Serif" font-size="14.5" fill="#262626" >0.4</text>
<path d="M230.12,724.20 V720.00 M230.12,443.50 V447.70" stroke="#262626" stroke-width="1.35"/>
<text x="230.12" y="746.80" text-anchor="middle" font-family="Liberation Serif" font-size="14.5" fill="#262626" >0.6</text>
<path d="M293.26,724.20 V720.00 M293.26,443.50 V447.70" stroke="#262626" stroke-width="1.35"/>
<text x="293.26" y="746.80" text-anchor="middle" font-family="Liberation Serif" font-size="14.5" fill="#262626" >0.8</text>
<path d="M356.40,724.20 V720.00 M356.40,443.50 V447.70" stroke="#262626" stroke-width="1.35"/>
<text x="356.40" y="746.80" text-anchor="middle" font-family="Liberation Serif" font-size="14.5" fill="#262626" >1</text>
<path d="M40.70,724.20 H44.90 M356.40,724.20 H352.20" stroke="#262626" stroke-width="1.35"/>
<text x="34.00" y="730.20" text-anchor="end" font-family="Liberation Serif" font-size="14.5" fill="#262626" >0</text>
<path d="M40.70,677.42 H44.90 M356.40,677.42 H352.20" stroke="#262626" stroke-width="1.35"/>
<text x="34.00" y="683.42" text-anchor="end" font-family="Liberation Serif" font-size="14.5" fill="#262626" >1</text>
<path d="M40.70,630.63 H44.90 M356.40,630.63 H352.20" stroke="#262626" stroke-width="1.35"/>
<text x="34.00" y="636.63" text-anchor="end" font-family="Liberation Serif" font-size="14.5" fill="#262626" >2</text>
<path d="M40.70,583.85 H44.90 M356.40,583.85 H352.20" stroke="#262626" stroke-width="1.35"/>
<text x="34.00" y="589.85" text-anchor="end" font-family="Liberation Serif" font-size="14.5" fill="#262626" >3</text>
<path d="M40.70,537.07 H44.90 M356.40,537.07 H352.20" stroke="#262626" stroke-width="1.35"/>
<text x="34.00" y="543.07" text-anchor="end" font-family="Liberation Serif" font-size="14.5" fill="#262626" >4</text>
<path d="M40.70,490.28 H44.90 M356.40,490.28 H352.20" stroke="#262626" stroke-width="1.35"/>
<text x="34.00" y="496.28" text-anchor="end" font-family="Liberation Serif" font-size="14.5" fill="#262626" >5</text>
<path d="M40.70,443.50 H44.90 M356.40,443.50 H352.20" stroke="#262626" stroke-width="1.35"/>
<text x="34.00" y="449.50" text-anchor="end" font-family="Liberation Serif" font-size="14.5" fill="#262626" >6</text>
<rect x="84.8" y="452.8" width="231.5" height="74.6" fill="#fff" stroke="#262626" stroke-width="1.3"/>
<line x1="89.8" y1="467.2" x2="137.6" y2="467.2" stroke="#1a96ff" stroke-width="2.5"/>
<text x="141.6" y="470.4" font-family="Liberation Serif" font-size="14" fill="#000">A<tspan font-size="12" dy="7">12</tspan><tspan dy="-7"> = −2</tspan></text>
<line x1="205.4" y1="467.2" x2="253.4" y2="467.2" stroke="#0ae60a" stroke-width="2.5"/>
<text x="257.6" y="470.4" font-family="Liberation Serif" font-size="14" fill="#000">A<tspan font-size="12" dy="7">12</tspan><tspan dy="-7"> = −1</tspan></text>
<line x1="89.8" y1="489.9" x2="137.6" y2="489.9" stroke="#000000" stroke-width="2.5"/>
<text x="141.6" y="493.1" font-family="Liberation Serif" font-size="14" fill="#000">A<tspan font-size="12" dy="7">12</tspan><tspan dy="-7"> = 0</tspan></text>
<line x1="205.4" y1="489.9" x2="253.4" y2="489.9" stroke="#0000ff" stroke-width="2.5"/>
<text x="257.6" y="493.1" font-family="Liberation Serif" font-size="14" fill="#000">A<tspan font-size="12" dy="7">12</tspan><tspan dy="-7"> = +1</tspan></text>
<line x1="89.8" y1="513.3" x2="137.6" y2="513.3" stroke="#ff0000" stroke-width="2.5"/>
<text x="141.6" y="516.5" font-family="Liberation Serif" font-size="14" fill="#000">A<tspan font-size="12" dy="7">12</tspan><tspan dy="-7"> = +2</tspan></text>
<text x="45.40" y="420.00" font-family="Liberation Serif" font-size="17" fill="#000" font-weight="bold" letter-spacing="0.4">(c)</text>
<text x="197" y="759.2" font-family="Liberation Serif" font-style="italic" font-size="19.5" fill="#262626">x<tspan font-size="15.5" dx="2" dy="9.6">2</tspan></text>
<path d="M-0.5,593.00 L12.6,599.75" stroke="#262626" stroke-width="1.15" fill="none"/>
<path d="M5.4,596.80 C2.6,597.10 1.2,598.20 1.3,599.90 C1.4,601.60 2.4,602.80 3.7,603.60" stroke="#262626" stroke-width="1.4" fill="none"/>
<path d="M-0.5,567.90 L12.6,574.65" stroke="#262626" stroke-width="1.15" fill="none"/>
<path d="M5.4,571.70 C2.6,572.00 1.2,573.10 1.3,574.80 C1.4,576.50 2.4,577.70 3.7,578.50" stroke="#262626" stroke-width="1.4" fill="none"/>
<path d="M-0.6,580.7 L8.8,585.8" stroke="#262626" stroke-width="1.15" fill="none"/>
<text transform="translate(18.70,593.10) rotate(-90)" font-family="Liberation Serif" font-style="italic" font-size="15" fill="#262626">1</text>
<text transform="translate(18.70,568.40) rotate(-90)" font-family="Liberation Serif" font-style="italic" font-size="15" fill="#262626">0</text>
<path d="M417.4,599.22 L496.32,657.42 L575.25,687.86 L654.17,703.57 L733.1,712.12" fill="none" stroke="#000080" stroke-width="2.5" stroke-linejoin="round" />
<rect x="412.60" y="594.42" width="9.6" height="9.6" fill="#000080"/>
<rect x="491.52" y="652.62" width="9.6" height="9.6" fill="#000080"/>
<rect x="570.45" y="683.06" width="9.6" height="9.6" fill="#000080"/>
<rect x="649.38" y="698.77" width="9.6" height="9.6" fill="#000080"/>
<rect x="728.30" y="707.32" width="9.6" height="9.6" fill="#000080"/>
<path d="M417.4,588.98 L496.32,655.04 L575.25,686.74 L654.17,703.28 L733.1,712.12" fill="none" stroke="#3232c8" stroke-width="2.5" stroke-linejoin="round" />
<rect x="412.60" y="584.18" width="9.6" height="9.6" fill="#3232c8"/>
<rect x="491.52" y="650.24" width="9.6" height="9.6" fill="#3232c8"/>
<rect x="570.45" y="681.94" width="9.6" height="9.6" fill="#3232c8"/>
<rect x="649.38" y="698.48" width="9.6" height="9.6" fill="#3232c8"/>
<rect x="728.30" y="707.32" width="9.6" height="9.6" fill="#3232c8"/>
<path d="M417.4,575.52 L496.32,650.97 L575.25,685.33 L654.17,703.14 L733.1,711.98" fill="none" stroke="#001eff" stroke-width="2.5" stroke-linejoin="round" />
<rect x="412.60" y="570.72" width="9.6" height="9.6" fill="#001eff"/>
<rect x="491.52" y="646.17" width="9.6" height="9.6" fill="#001eff"/>
<rect x="570.45" y="680.53" width="9.6" height="9.6" fill="#001eff"/>
<rect x="649.38" y="698.34" width="9.6" height="9.6" fill="#001eff"/>
<rect x="728.30" y="707.18" width="9.6" height="9.6" fill="#001eff"/>
<path d="M417.4,555.88 L496.32,645.36 L575.25,683.93 L654.17,703 L733.1,711.98" fill="none" stroke="#0064ff" stroke-width="2.5" stroke-linejoin="round" />
<rect x="412.60" y="551.08" width="9.6" height="9.6" fill="#0064ff"/>
<rect x="491.52" y="640.56" width="9.6" height="9.6" fill="#0064ff"/>
<rect x="570.45" y="679.13" width="9.6" height="9.6" fill="#0064ff"/>
<rect x="649.38" y="698.20" width="9.6" height="9.6" fill="#0064ff"/>
<rect x="728.30" y="707.18" width="9.6" height="9.6" fill="#0064ff"/>
<path d="M417.4,525.03 L496.32,638.21 L575.25,682.53 L654.17,702.86 L733.1,711.98" fill="none" stroke="#0096ff" stroke-width="2.5" stroke-linejoin="round" />
<rect x="412.60" y="520.23" width="9.6" height="9.6" fill="#0096ff"/>
<rect x="491.52" y="633.41" width="9.6" height="9.6" fill="#0096ff"/>
<rect x="570.45" y="677.73" width="9.6" height="9.6" fill="#0096ff"/>
<rect x="649.38" y="698.06" width="9.6" height="9.6" fill="#0096ff"/>
<rect x="728.30" y="707.18" width="9.6" height="9.6" fill="#0096ff"/>
<path d="M417.4,470.75 L496.32,628.67 L575.25,681.12 L654.17,702.72 L733.1,711.98" fill="none" stroke="#00c8ff" stroke-width="2.5" stroke-linejoin="round" />
<rect x="412.60" y="465.95" width="9.6" height="9.6" fill="#00c8ff"/>
<rect x="491.52" y="623.87" width="9.6" height="9.6" fill="#00c8ff"/>
<rect x="570.45" y="676.33" width="9.6" height="9.6" fill="#00c8ff"/>
<rect x="649.38" y="697.92" width="9.6" height="9.6" fill="#00c8ff"/>
<rect x="728.30" y="707.18" width="9.6" height="9.6" fill="#00c8ff"/>
<rect x="417.40" y="442.70" width="315.70" height="280.50" fill="none" stroke="#262626" stroke-width="1.35"/>
<path d="M417.40,723.20 V719.00 M417.40,442.70 V446.90" stroke="#262626" stroke-width="1.35"/>
<text x="417.40" y="745.80" text-anchor="middle" font-family="Liberation Serif" font-size="14.5" fill="#262626" >-2</text>
<path d="M496.32,723.20 V719.00 M496.32,442.70 V446.90" stroke="#262626" stroke-width="1.35"/>
<text x="496.32" y="745.80" text-anchor="middle" font-family="Liberation Serif" font-size="14.5" fill="#262626" >-1</text>
<path d="M575.25,723.20 V719.00 M575.25,442.70 V446.90" stroke="#262626" stroke-width="1.35"/>
<text x="575.25" y="745.80" text-anchor="middle" font-family="Liberation Serif" font-size="14.5" fill="#262626" >0</text>
<path d="M654.17,723.20 V719.00 M654.17,442.70 V446.90" stroke="#262626" stroke-width="1.35"/>
<text x="654.17" y="745.80" text-anchor="middle" font-family="Liberation Serif" font-size="14.5" fill="#262626" >1</text>
<path d="M733.10,723.20 V719.00 M733.10,442.70 V446.90" stroke="#262626" stroke-width="1.35"/>
<text x="733.10" y="745.80" text-anchor="middle" font-family="Liberation Serif" font-size="14.5" fill="#262626" >2</text>
<path d="M417.40,723.20 H421.60 M733.10,723.20 H728.90" stroke="#262626" stroke-width="1.35"/>
<text x="410.20" y="729.20" text-anchor="end" font-family="Liberation Serif" font-size="14.5" fill="#262626" >0</text>
<path d="M417.40,653.08 H421.60 M733.10,653.08 H728.90" stroke="#262626" stroke-width="1.35"/>
<text x="410.20" y="659.08" text-anchor="end" font-family="Liberation Serif" font-size="14.5" fill="#262626" >5</text>
<path d="M417.40,582.95 H421.60 M733.10,582.95 H728.90" stroke="#262626" stroke-width="1.35"/>
<text x="410.20" y="588.95" text-anchor="end" font-family="Liberation Serif" font-size="14.5" fill="#262626" >10</text>
<path d="M417.40,512.83 H421.60 M733.10,512.83 H728.90" stroke="#262626" stroke-width="1.35"/>
<text x="410.20" y="518.83" text-anchor="end" font-family="Liberation Serif" font-size="14.5" fill="#262626" >15</text>
<path d="M417.40,442.70 H421.60 M733.10,442.70 H728.90" stroke="#262626" stroke-width="1.35"/>
<text x="410.20" y="448.70" text-anchor="end" font-family="Liberation Serif" font-size="14.5" fill="#262626" >20</text>
<rect x="604.7" y="454.9" width="116.1" height="102.4" fill="#fff" stroke="#262626" stroke-width="1.3"/>
<line x1="609.9" y1="465.3" x2="657.7" y2="465.3" stroke="#00c8ff" stroke-width="2.5"/>
<rect x="629.00" y="460.50" width="9.6" height="9.6" fill="#00c8ff"/>
<text x="661.80" y="469.20" font-family="Liberation Serif" font-size="12.8" fill="#000" >T = 325 K</text>
<line x1="609.9" y1="481.6" x2="657.7" y2="481.6" stroke="#0096ff" stroke-width="2.5"/>
<rect x="629.00" y="476.80" width="9.6" height="9.6" fill="#0096ff"/>
<text x="661.80" y="485.50" font-family="Liberation Serif" font-size="12.8" fill="#000" >T = 320 K</text>
<line x1="609.9" y1="497.9" x2="657.7" y2="497.9" stroke="#0064ff" stroke-width="2.5"/>
<rect x="629.00" y="493.10" width="9.6" height="9.6" fill="#0064ff"/>
<text x="661.80" y="501.80" font-family="Liberation Serif" font-size="12.8" fill="#000" >T = 315 K</text>
<line x1="609.9" y1="514.2" x2="657.7" y2="514.2" stroke="#001eff" stroke-width="2.5"/>
<rect x="629.00" y="509.40" width="9.6" height="9.6" fill="#001eff"/>
<text x="661.80" y="518.10" font-family="Liberation Serif" font-size="12.8" fill="#000" >T = 310 K</text>
<line x1="609.9" y1="530.5" x2="657.7" y2="530.5" stroke="#3232c8" stroke-width="2.5"/>
<rect x="629.00" y="525.70" width="9.6" height="9.6" fill="#3232c8"/>
<text x="661.80" y="534.40" font-family="Liberation Serif" font-size="12.8" fill="#000" >T = 305 K</text>
<line x1="609.9" y1="546.8" x2="657.7" y2="546.8" stroke="#000080" stroke-width="2.5"/>
<rect x="629.00" y="542.00" width="9.6" height="9.6" fill="#000080"/>
<text x="661.80" y="550.70" font-family="Liberation Serif" font-size="12.8" fill="#000" >T = 300 K</text>
<text x="409.00" y="419.80" font-family="Liberation Serif" font-size="17" fill="#000" font-weight="bold" letter-spacing="0.5">(d)</text>
<text x="560.5" y="769.6" font-family="Liberation Serif" font-size="19" fill="#262626">A<tspan font-size="15" dx="1.2" dy="9">12</tspan></text>
<text transform="translate(384.6,582.0) rotate(-90)" text-anchor="middle" font-family="Liberation Serif" font-style="italic" font-size="20.5" fill="#262626">Φ</text>
</svg></body></html>
